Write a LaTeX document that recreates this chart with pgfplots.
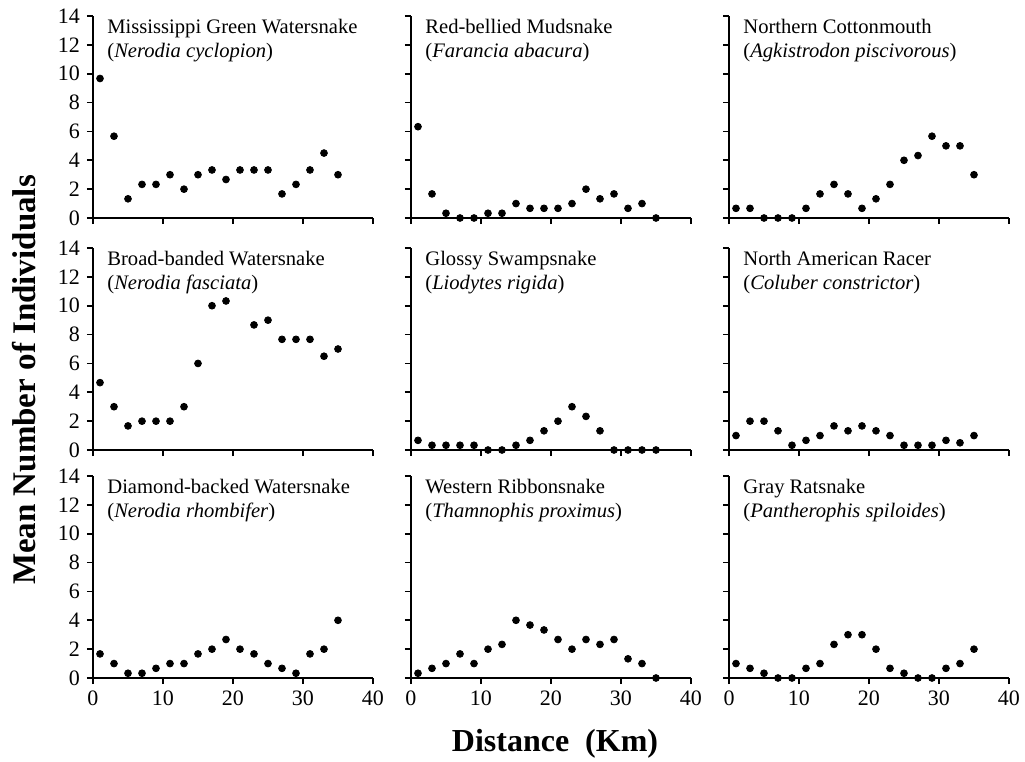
\documentclass[border=0pt]{standalone}
\usepackage{fontspec}
\setmainfont{Liberation Serif}
\usepackage{pgfplots}
\pgfplotsset{compat=1.18}
\pgfplotsset{
  panel/.style={
    width=140pt, height=101pt, scale only axis,
    xmin=0, xmax=40, ymin=0, ymax=14,
    axis x line*=bottom, axis y line*=left,
    axis line style={-, line width=0.9pt},
    tick align=outside, major tick length=3pt,
    tick style={black, line width=0.9pt},
    xtick={0,10,20,30,40}, ytick={0,2,4,6,8,10,12,14},
    clip=false, anchor=south west,
    ticklabel style={font=\fontsize{11}{11}\selectfont},
    /pgf/number format/assume math mode=true,
  },
  nox/.style={xticklabels={}},
  noy/.style={yticklabels={}},
  dots/.style={only marks, mark=*, mark size=1.7pt, black},
}
\newcommand{\ttl}[2]{\node[anchor=north west, align=left, inner sep=0pt,
  font=\fontsize{10.3}{11.8}\selectfont] at (rel axis cs:0.05,0.985) {#1\\(\textit{#2})};}
\begin{document}
\begin{tikzpicture}
\path[use as bounding box] (0,0) rectangle (512.5pt,-381pt);
% Row 1
\begin{axis}[panel, nox, at={(46.5pt,-109pt)}]
\addplot[dots] coordinates {(1,9.67)(3,5.67)(5,1.33)(7,2.33)(9,2.33)(11,3)(13,2)(15,3)(17,3.33)(19,2.67)(21,3.33)(23,3.33)(25,3.33)(27,1.67)(29,2.33)(31,3.33)(33,4.5)(35,3)};
\ttl{Mississippi Green Watersnake}{Nerodia cyclopion}
\end{axis}
\begin{axis}[panel, nox, noy, at={(205.5pt,-109pt)}]
\addplot[dots] coordinates {(1,6.33)(3,1.67)(5,0.33)(7,0)(9,0)(11,0.33)(13,0.33)(15,1)(17,0.67)(19,0.67)(21,0.67)(23,1)(25,2)(27,1.33)(29,1.67)(31,0.67)(33,1)(35,0)};
\ttl{Red-bellied Mudsnake}{Farancia abacura}
\end{axis}
\begin{axis}[panel, nox, noy, at={(364.5pt,-109pt)}]
\addplot[dots] coordinates {(1,0.67)(3,0.67)(5,0)(7,0)(9,0)(11,0.67)(13,1.67)(15,2.33)(17,1.67)(19,0.67)(21,1.33)(23,2.33)(25,4)(27,4.33)(29,5.67)(31,5)(33,5)(35,3)};
\ttl{Northern Cottonmouth}{Agkistrodon piscivorous}
\end{axis}
% Row 2
\begin{axis}[panel, nox, at={(46.5pt,-225pt)}]
\addplot[dots] coordinates {(1,4.67)(3,3)(5,1.67)(7,2)(9,2)(11,2)(13,3)(15,6)(17,10)(19,10.33)(23,8.67)(25,9)(27,7.67)(29,7.67)(31,7.67)(33,6.5)(35,7)};
\ttl{Broad-banded Watersnake}{Nerodia fasciata}
\end{axis}
\begin{axis}[panel, nox, noy, at={(205.5pt,-225pt)}]
\addplot[dots] coordinates {(1,0.67)(3,0.33)(5,0.33)(7,0.33)(9,0.33)(11,0)(13,0)(15,0.33)(17,0.67)(19,1.33)(21,2)(23,3)(25,2.33)(27,1.33)(29,0)(31,0)(33,0)(35,0)};
\ttl{Glossy Swampsnake}{Liodytes rigida}
\end{axis}
\begin{axis}[panel, nox, noy, at={(364.5pt,-225pt)}]
\addplot[dots] coordinates {(1,1)(3,2)(5,2)(7,1.33)(9,0.33)(11,0.67)(13,1)(15,1.67)(17,1.33)(19,1.67)(21,1.33)(23,1)(25,0.33)(27,0.33)(29,0.33)(31,0.67)(33,0.5)(35,1)};
\ttl{North American Racer}{Coluber constrictor}
\end{axis}
% Row 3
\begin{axis}[panel, at={(46.5pt,-339pt)}]
\addplot[dots] coordinates {(1,1.67)(3,1)(5,0.33)(7,0.33)(9,0.67)(11,1)(13,1)(15,1.67)(17,2)(19,2.67)(21,2)(23,1.67)(25,1)(27,0.67)(29,0.33)(31,1.67)(33,2)(35,4)};
\ttl{Diamond-backed Watersnake}{Nerodia rhombifer}
\end{axis}
\begin{axis}[panel, noy, at={(205.5pt,-339pt)}]
\addplot[dots] coordinates {(1,0.33)(3,0.67)(5,1)(7,1.67)(9,1)(11,2)(13,2.33)(15,4)(17,3.67)(19,3.33)(21,2.67)(23,2)(25,2.67)(27,2.33)(29,2.67)(31,1.33)(33,1)(35,0)};
\ttl{Western Ribbonsnake}{Thamnophis proximus}
\end{axis}
\begin{axis}[panel, noy, at={(364.5pt,-339pt)}]
\addplot[dots] coordinates {(1,1)(3,0.67)(5,0.33)(7,0)(9,0)(11,0.67)(13,1)(15,2.33)(17,3)(19,3)(21,2)(23,0.67)(25,0.33)(27,0)(29,0)(31,0.67)(33,1)(35,2)};
\ttl{Gray Ratsnake}{Pantherophis spiloides}
\end{axis}
\node[rotate=90, font=\bfseries\fontsize{16.5}{16.5}\selectfont] at (12pt,-190pt) {Mean Number of Individuals};
\node[font=\bfseries\fontsize{16}{16}\selectfont] at (277.5pt,-372pt) {Distance\ \ (Km)};
\end{tikzpicture}
\end{document}
